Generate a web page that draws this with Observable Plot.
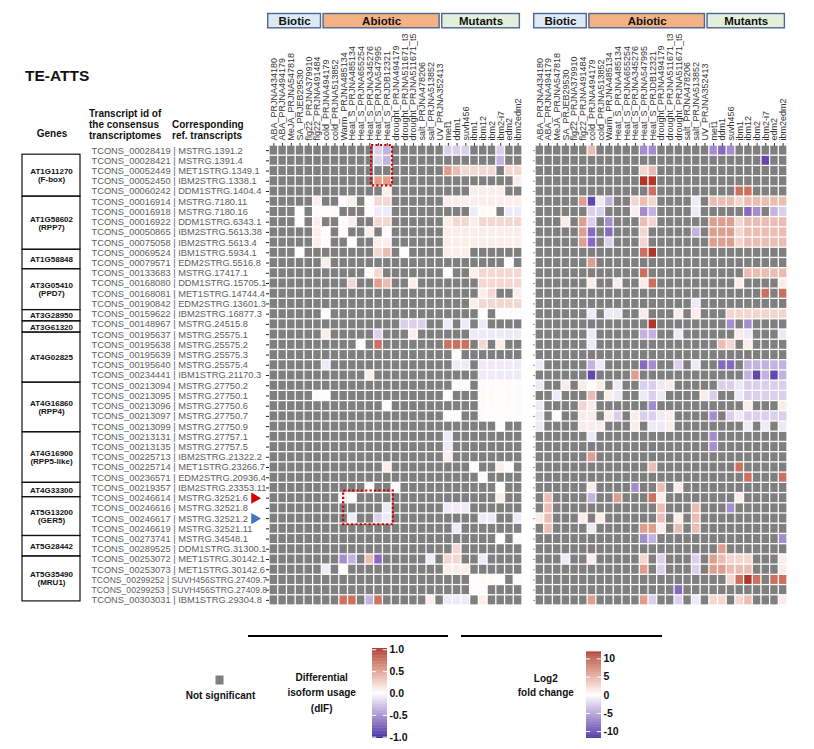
<!DOCTYPE html>
<html><head><meta charset="utf-8">
<script src="https://cdn.jsdelivr.net/npm/d3@7"></script>
<script src="https://cdn.jsdelivr.net/npm/@observablehq/plot@0.6"></script>
<style>
body{margin:0;background:#fff;font-family:"Liberation Sans",Arial,sans-serif;}
#root{position:relative;width:814px;height:749px;overflow:hidden;background:#fff;}
#root svg{position:absolute;left:0;top:0;}
</style></head><body><div id="root"></div>
<script>
// ---------- DATA ----------
const conditions = ["ABA_PRJNA434180","ABA_PRJNA494179","MeJA_PRJNA547818","SA_PRJEB29530","flg22_PRJNA379910","flg22_PRJNA491484","cold_PRJNA494179","cold_PRJNA513852","Warm_PRJNA485134","Heat_S_PRJNA485134","Heat_S_PRJNA655254","Heat_S_PRJNA345276","Heat_S_PRJNA547995","Heat_S_PRJDB12321","drought_PRJNA494179","drought_PRJNA511671_t3","drought_PRJNA511671_t5","salt_PRJNA478206","salt_PRJNA513852","UV_PRJNA352413","met1","ddm1","suvh456","ibm1","ibm12","ibm2","ibm2-i7","edm2","ibm2edm2"];

const groupNames = ["Biotic","Abiotic","Mutants"];
const groupStart = [-0.15, 6.2, 19.8];   // in column units
const groupEnd   = [5.9, 19.5, 28.7];
const groupFill  = ["#dde9f5","#f4b183","#e2efda"];

const transcriptIds = ["TCONS_00028419","TCONS_00028421","TCONS_00052449","TCONS_00052450","TCONS_00060242","TCONS_00016914","TCONS_00016918","TCONS_00016922","TCONS_00050865","TCONS_00075058","TCONS_00069524","TCONS_00079571","TCONS_00133683","TCONS_00168080","TCONS_00168081","TCONS_00190842","TCONS_00159622","TCONS_00148967","TCONS_00195637","TCONS_00195638","TCONS_00195639","TCONS_00195640","TCONS_00234441","TCONS_00213094","TCONS_00213095","TCONS_00213096","TCONS_00213097","TCONS_00213099","TCONS_00213131","TCONS_00213135","TCONS_00225713","TCONS_00225714","TCONS_00236571","TCONS_00219357","TCONS_00246614","TCONS_00246616","TCONS_00246617","TCONS_00246619","TCONS_00273741","TCONS_00289525","TCONS_00253072","TCONS_00253073","TCONS_00299252","TCONS_00299253","TCONS_00303031"];
const refTranscripts = ["MSTRG.1391.2","MSTRG.1391.4","MET1STRG.1349.1","IBM2STRG.1338.1","DDM1STRG.1404.4","MSTRG.7180.11","MSTRG.7180.16","DDM1STRG.6343.1","IBM2STRG.5613.38","IBM2STRG.5613.4","IBM1STRG.5934.1","EDM2STRG.5516.8","MSTRG.17417.1","DDM1STRG.15705.1","MET1STRG.14744.4","EDM2STRG.13601.3","IBM2STRG.16877.3","MSTRG.24515.8","MSTRG.25575.1","MSTRG.25575.2","MSTRG.25575.3","MSTRG.25575.4","IBM1STRG.21170.3","MSTRG.27750.2","MSTRG.27750.1","MSTRG.27750.6","MSTRG.27750.7","MSTRG.27750.9","MSTRG.27757.1","MSTRG.27757.5","IBM2STRG.21322.2","MET1STRG.23266.7","EDM2STRG.20936.4","IBM2STRG.23353.11","MSTRG.32521.6","MSTRG.32521.8","MSTRG.32521.2","MSTRG.32521.11","MSTRG.34548.1","DDM1STRG.31300.1","MET1STRG.30142.1","MET1STRG.30142.6","SUVH456STRG.27409.7","SUVH456STRG.27409.8","IBM1STRG.29304.8"];

const geneIds   = ["AT1G11270","AT1G58602","AT1G58848","AT3G05410","AT3G28950","AT3G61320","AT4G02825","AT4G16860","AT4G16900","AT4G33300","AT5G13200","AT5G28442","AT5G35490"];
const geneNames = ["F-box","RPP7","","PPD7","","","","RPP4","RPP5-like","","GER5","","MRU1"];
const geneBounds = [0.9, 5, 10.2, 12.1, 16.1, 17.2, 18.3, 23.2, 28.05, 33, 34.4, 38.2, 40.2, 44.6]; // row units

// cell codes: "." not significant; 0 ~ zero; 1..6 positive (light -> dark red); a..f negative (light -> dark blue)
const difLevels = {"0":0.02,"1":0.08,"2":0.18,"3":0.3,"4":0.45,"5":0.65,"6":0.9,"a":-0.08,"b":-0.18,"c":-0.3,"d":-0.45,"e":-0.6,"f":-0.75};
const lfcLevels = {"0":0.2,"1":1,"2":2.2,"3":3.6,"4":5.4,"5":7.8,"6":10.8,"a":-1,"b":-2.2,"c":-3.6,"d":-5.4,"e":-7.2,"f":-9};

const difRows = [
"............bc......bbb...b..",
"............bc............c..",
"....................432222.22",
"............44..............1",
".............1.........1111..",
".....1..01.022......111111111",
"...0.000...0aa.........a00.aa",
"...0.1..01..22......122122222",
".....10.0..1.0......111111111",
".....10..0..11......111111111",
"...0........23.0....111......",
"......1....................0.",
"...........02.......0..122222",
".........2..43..1.......22222",
"........................12..1",
".......................122222",
"......0.................0.000",
"...............bbb..a.a.a....",
"......1.....b...1......aaaaaa",
"..........0.5.......555.2.1..",
".....................0.......",
"......a..............aa.aaaaa",
"...........1............aaaaa",
".....................00.00000",
".....00.............0...00000",
".............0..........00000",
"....................00..00000",
"..........................0..",
"....................a........",
"....................a........",
"....................1........",
".............1.........0..10.",
"........................0....",
"...........0..0...........0..",
"........10................1..",
".............a......aaa......",
".........a..ba..........aa..a",
".....................a.......",
"..........................0.0",
".....................2.......",
"........dc.3e.....a.22..a....",
"......a.0...........111......",
".......................0000.0",
".......................00....",
"........55.c5.....1.aaa.1...."
];

const lfcRows = [
"......3.....dd......ded......",
"..........................f..",
"............23...............",
"............66...............",
".............5.........55....",
".....4fac..232....a.333233333",
"......bb...1dc....a.....ed.cb",
"...1.4b.d...32......444233333",
".....4e.e...2.....c.444233333",
".....4e.b...2.......444233333",
"............56...............",
"......4......................",
"............5...........33333",
"......1..1..15.........1....1",
"..........................5.5",
"..................a..........",
"......a.aa..1...1.1...2222222",
".............6........d.d....",
"......a.....cc..a......1a...a",
"......a..............32.1....",
".............................",
"a.....ca....ed..b.a..ee.ccccc",
"......f....4............cfcfc",
"a..1.101.a..bba1.....bbabbbbb",
"..a...3.1a..aba....1b..abbbbb",
"a....21......d..........1...1",
"a.0..11.1b.1bba1....d.babbbbb",
"a....111...1.aa1........a.a.a",
"......a.............d........",
"....................d........",
"......4......................",
".............3.........5.....",
"........................5...5",
"......1....d..3.1............",
".3....c..4...51........1.....",
".3............3...3...d......",
"13...1.1......3.1.3..........",
".3....a.....441.3.3..........",
"............dc..............d",
".....................4.......",
"...a..1.....2.b...b.43222...1",
"............4.b...b.44333...1",
"......................2565.55",
"................e............",
"......4.....4b..b.a.22.23...1"
];

// highlight boxes (column / row units)
const highlights = [{x1:11.7, x2:14.1, y1:0.0, y2:3.95},{x1:8.5, x2:14.2, y1:33.8, y2:37.1}];
const markedRows = {red: 34, blue: 36};

// ---------- BUILD ----------
const W = 814, H = 749;
const FONT = "Liberation Sans, Arial, sans-serif";
const LOW = "#1e0c92", HIGH = "#a01a14";
const difColor = {type:"linear", domain:[-1,0,1], range:[LOW,"#ffffff",HIGH], interpolate:"lab"};
const lfcColor = {type:"linear", domain:[-12,0,12], range:[LOW,"#ffffff",HIGH], interpolate:"lab"};
const root = document.getElementById("root");
const baseStyle = {background:"transparent", fontFamily:FONT, overflow:"visible"};

function cellsFrom(rows, levels){
  const out = [];
  rows.forEach((s,i)=>{ for(let j=0;j<s.length;j++){ const c=s[j]; out.push({i, j, v: c==="." ? null : levels[c]}); } });
  return out;
}

function heatmap(rows, levels, color, mLeft, mRight, labels){
  const cells = cellsFrom(rows, levels);
  const ns = cells.filter(d=>d.v===null), sig = cells.filter(d=>d.v!==null);
  const rowIdx = d3.range(rows.length);
  const rowTicks = rowIdx.map(i=>i+0.5);
  const colTicks = d3.range(conditions.length).map(j=>j+0.5);
  const marks = [];
  if (labels) {
    const lab = d => transcriptIds[d] + " | " + refTranscripts[d];
    marks.push(Plot.text(rowIdx, {y:d=>d+0.5, frameAnchor:"left", dx:-178, textAnchor:"start",
      fontSize: d => lab(d).length > 35 ? 8.6 : 9.3, fill:"#5e5e5e", text: lab}));
    marks.push(Plot.axisY(rowTicks, {anchor:"left", tickSize:3, tickFormat:()=>"", stroke:"#222", label:null}));
  } else {
    marks.push(Plot.axisY(rowTicks, {anchor:"left", tickSize:2, tickFormat:()=>"", stroke:"#999", label:null}));
  }
  marks.push(Plot.axisX(colTicks, {anchor:"top", tickSize:3, tickPadding:2, tickRotate:-90, textAnchor:"start", lineAnchor:"middle",
    fontSize:9, fill:"#333", stroke:"#333", label:null, tickFormat: d => conditions[Math.floor(d)]}));
  marks.push(Plot.rect(ns, {x1:"j", x2:d=>d.j+1, y1:"i", y2:d=>d.i+1, fill:"#7f7f7f", inset:0.65}));
  marks.push(Plot.rect(sig, {x1:"j", x2:d=>d.j+1, y1:"i", y2:d=>d.i+1, fill:"v", inset:0.65}));
  if (labels) {
    marks.push(Plot.rect(highlights, {x1:"x1", x2:"x2", y1:"y1", y2:"y2", fill:"none", stroke:"#cc0000", strokeWidth:2.2, strokeDasharray:"2.2,2.2"}));
    marks.push(Plot.dot([markedRows.red], {y:d=>d+0.5, frameAnchor:"left", dx:-15, symbol:"triangle", rotate:90, r:4.2, fill:"#d40000", stroke:"none"}));
    marks.push(Plot.dot([markedRows.blue], {y:d=>d+0.5, frameAnchor:"left", dx:-15, symbol:"triangle", rotate:90, r:4.2, fill:"#4472c4", stroke:"none"}));
  }
  return Plot.plot({
    width:W, height:H, marginLeft:mLeft, marginRight:mRight, marginTop:145, marginBottom:H-605,
    x:{domain:[0,29], axis:null}, y:{domain:[0,45], reverse:true, axis:null},
    color, style:baseStyle, marks
  });
}

root.appendChild(heatmap(difRows, difLevels, difColor, 269, W-522, true));
root.appendChild(heatmap(lfcRows, lfcLevels, lfcColor, 535, W-787, false));

// group headers (both panels)
const groupData = groupNames.map((g,k)=>({g, s:groupStart[k], e:groupEnd[k], fill:groupFill[k]}));
function header(mLeft, mRight){
  return Plot.plot({
    width:W, height:40, marginLeft:mLeft, marginRight:mRight, marginTop:13.5, marginBottom:40-27.8,
    x:{domain:[0,29], axis:null}, y:{axis:null}, style:baseStyle,
    marks:[
      Plot.rect(groupData, {x1:"s", x2:"e", fill:d=>d.fill, stroke:"#4d6791", strokeWidth:1.4}),
      Plot.text(groupData, {x:d=>(d.s+d.e)/2, frameAnchor:"middle", text:"g", fontWeight:"bold", fontSize:11.5, fill:"#111"})
    ]
  });
}
root.appendChild(header(269, W-522));
root.appendChild(header(535, W-787));

// gene boxes
const geneData = geneIds.map((g,k)=>({g, n:geneNames[k], s:geneBounds[k], e:geneBounds[k+1]}));
root.appendChild(Plot.plot({
  width:W, height:H, marginLeft:22, marginRight:W-80, marginTop:145, marginBottom:H-605,
  x:{domain:[0,1], axis:null}, y:{domain:[0,45], reverse:true, axis:null}, style:baseStyle,
  marks:[
    Plot.rect(geneData, {x1:0, x2:1, y1:"s", y2:"e", fill:"none", stroke:"#111", strokeWidth:1.2}),
    Plot.text(geneData, {x:0.5, y:d=>(d.s+d.e)/2, text:d=>d.n ? d.g+"\n("+d.n+")" : d.g, fontWeight:"bold", fontSize:8, lineHeight:1.0, fill:"#111"})
  ]
}));

// colour bar legends
function colorbar(color, dom, ticks, fmt, x0, x1, yTop, yBot){
  const n = 120, step = (dom[1]-dom[0])/n;
  const ramp = d3.range(n).map(k=>dom[0]+k*step);
  return Plot.plot({
    width:W, height:H, marginLeft:x0, marginRight:W-x1, marginTop:yTop, marginBottom:H-yBot,
    x:{domain:[0,1], axis:null}, y:{domain:dom, axis:null}, color, style:baseStyle,
    marks:[
      Plot.rect(ramp, {x1:0, x2:1, y1:d=>d, y2:d=>d+step*1.02, fill:d=>d+step/2}),
      Plot.tickY(ticks, {y:d=>d, stroke:"#fff", strokeWidth:1, insetLeft:(x1-x0)*0.72}),
      Plot.tickY(ticks, {y:d=>d, stroke:"#fff", strokeWidth:1, insetRight:(x1-x0)*0.72}),
      Plot.axisY(ticks, {anchor:"right", tickSize:0, tickPadding:2, tickFormat:fmt, fontWeight:"bold", fontSize:10.5, fill:"#111", label:null})
    ]
  });
}
root.appendChild(colorbar(difColor, [-1.03,1.03], [-1,-0.5,0,0.5,1], d=>d.toFixed(1), 372, 387, 648, 738));
root.appendChild(colorbar(lfcColor, [-11.9,11.9], [-10,-5,0,5,10], d=>String(d), 586, 601, 651.5, 738));

// static texts
const svg = d3.select(root).append("svg").attr("width",W).attr("height",H).style("font-family",FONT).style("pointer-events","none");
const T = (x,y,s,opts={}) => svg.append("text").attr("x",x).attr("y",y).text(s)
  .attr("font-size",opts.size||10).attr("font-weight",opts.weight||"bold").attr("text-anchor",opts.anchor||"start").attr("fill",opts.fill||"#111");
T(25, 81, "TE-ATTS", {size:15.5});
T(52, 137, "Genes", {anchor:"middle"});
T(89, 117, "Transcript id of");
T(89, 128, "the consensus");
T(89, 138.5, "transcriptomes");
T(172, 128, "Corresponding");
T(172, 138.5, "ref. transcripts");
svg.append("line").attr("x1",248).attr("x2",448).attr("y1",636).attr("y2",636).attr("stroke","#000").attr("stroke-width",2);
svg.append("line").attr("x1",461).attr("x2",662).attr("y1",636).attr("y2",636).attr("stroke","#000").attr("stroke-width",2);
svg.append("rect").attr("x",215.5).attr("y",675.5).attr("width",8).attr("height",9).attr("fill","#7f7f7f");
T(220.5, 699, "Not significant", {anchor:"middle"});
T(321.7, 681, "Differential", {anchor:"middle"});
T(321.7, 696, "isoform usage", {anchor:"middle"});
T(321.7, 712, "(dIF)", {anchor:"middle"});
T(545.8, 682, "Log2", {anchor:"middle"});
T(545.8, 695.5, "fold change", {anchor:"middle"});
</script></body></html>
